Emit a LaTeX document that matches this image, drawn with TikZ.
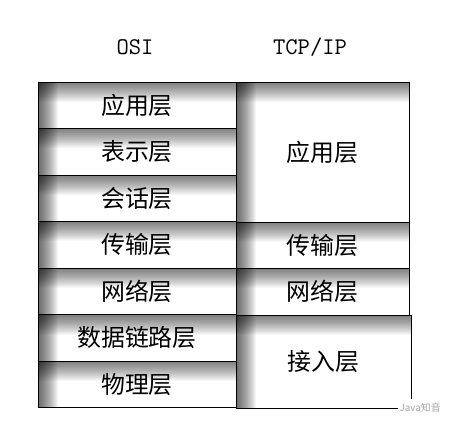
\documentclass[tikz,border=0pt]{standalone}
\usepackage{fontspec}
\newfontfamily\cjk{Noto Sans CJK SC}
\usetikzlibrary{positioning}

\tikzset{
  layer/.style={draw, line width=0.6pt, fill=white, inner sep=0pt, outer sep=0pt, minimum height=11.625mm,
    font=\cjk\fontsize{17}{20}\selectfont,
    path picture={
      % inner shadow, top and left edges
      \foreach \k in {1,...,20} {
        \fill[black, fill opacity=0.032] (path picture bounding box.north west) rectangle ([yshift=-\k*0.25mm]path picture bounding box.north east);
        \fill[black, fill opacity=0.04] (path picture bounding box.north west) rectangle ([xshift=\k*0.25mm]path picture bounding box.south west);
      }
    }},
  head/.style={font=\ttfamily\fontsize{17}{19}\selectfont}
}

\begin{document}
\begin{tikzpicture}[x=0.25mm, y=0.25mm]
    \useasboundingbox (0,0) rectangle (460,428);

    % Headers
    \node[head] (osi) at (135,381) {OSI};
    \node[head] (tcpip) at (310,381) {TCP/IP};

    % OSI column
    \node[layer, minimum width=49.5mm, anchor=north west] (app) at (38,346) {应用层};
    \node[layer, minimum width=49.5mm, below=0pt of app] (pres) {表示层};
    \node[layer, minimum width=49.5mm, below=0pt of pres] (sess) {会话层};
    \node[layer, minimum width=49.5mm, below=0pt of sess] (trans) {传输层};
    \node[layer, minimum width=49.5mm, below=0pt of trans] (net) {网络层};
    \node[layer, minimum width=49.5mm, below=0pt of net] (link) {数据链路层};
    \node[layer, minimum width=49.5mm, below=0pt of link] (phys) {物理层};

    % TCP/IP column
    \node[layer, minimum width=43.25mm, minimum height=35mm, anchor=north west] (tapp) at (app.north east) {应用层};
    \node[layer, minimum width=43.25mm, below=0pt of tapp] (ttrans) {传输层};
    \node[layer, minimum width=43.25mm, below=0pt of ttrans] (tnet) {网络层};
    \node[layer, minimum width=43.75mm, minimum height=23.25mm, anchor=north west] (access) at (tnet.south west) {接入层};

    % Watermark
    \node[font=\cjk\fontsize{7}{8}\selectfont, text=black!35, fill=white, inner xsep=1pt, anchor=west] (mark) at (398,20) {Java知音};
\end{tikzpicture}
\end{document}
